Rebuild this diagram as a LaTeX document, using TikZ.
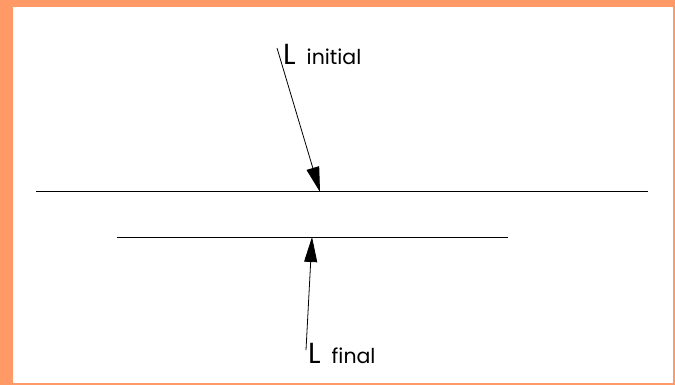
\documentclass[tikz,border=0pt]{standalone}
\usepackage{fontspec}
\setmainfont{Poppins}
\usetikzlibrary{arrows.meta}
\definecolor{frameorange}{RGB}{255,153,102}
\tikzset{
  surface/.style={draw=black, line width=1pt},
  ray/.style={draw=black, line width=0.8pt, -{Triangle[length=25pt,width=13pt]}},
  lbl/.style={anchor=base west, inner sep=0pt, text=black}
}
\newcommand{\bigL}{{\fontsize{29}{29}\selectfont L}}
\newcommand{\subtxt}[1]{{\fontsize{20.5}{20.5}\selectfont #1}}
\begin{document}
\begin{tikzpicture}[x=1pt,y=-1pt]
  \fill[frameorange] (0,0) rectangle (675,385);
  \fill[white] (13,7) rectangle (673,383);
  \useasboundingbox (0,0) rectangle (675,385);
  % surfaces
  \coordinate (s1a) at (36,192);
  \coordinate (s1b) at (648,192);
  \coordinate (s2a) at (117,237);
  \coordinate (s2b) at (508,237);
  \draw[surface] (s1a) -- (s1b);
  \draw[surface] (s2a) -- (s2b);
  % arrows
  \coordinate (t1) at (277,48);
  \coordinate (h1) at (320,192);
  \coordinate (t2) at (306,350);
  \coordinate (h2) at (312,237);
  \draw[ray] (t1) -- (h1);
  \draw[ray] (t2) -- (h2);
  % labels
  \node[lbl] (linit) at (283,65) {\bigL\hspace{11pt}\subtxt{initial}};
  \node[lbl] (lfinal) at (308,363) {\bigL\hspace{11pt}\subtxt{final}};
\end{tikzpicture}
\end{document}
